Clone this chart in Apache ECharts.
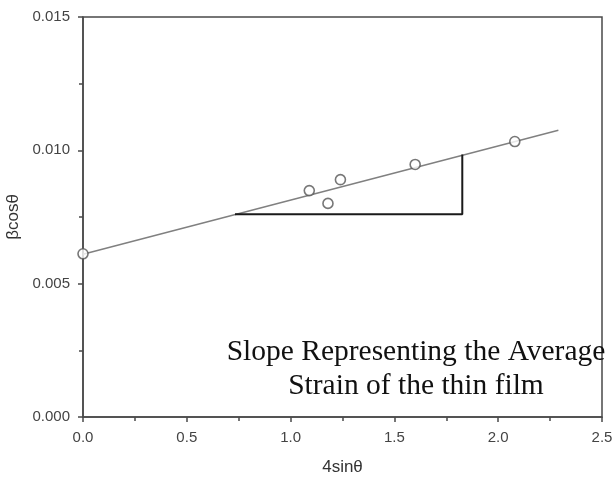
<!DOCTYPE html>
<html>
<head>
<meta charset="utf-8">
<script src="https://cdn.jsdelivr.net/npm/echarts@6/dist/echarts.min.js"></script>
<style>
html, body { margin: 0; padding: 0; background: #fff; }
#chart { width: 615px; height: 477px; }
</style>
</head>
<body>
<div id="chart"></div>
<script>
// measured points (4sinθ, βcosθ)
var pointsX = [0.0, 1.09, 1.18, 1.24, 1.60, 2.08];
var pointsY = [0.00612, 0.00849, 0.00801, 0.00890, 0.00947, 0.01033];
// linear fit, drawn between its two end points
var fitX = [0.0, 2.29];
var fitY = [0.0061, 0.01075];
// slope triangle corners
var triX = [0.732, 1.827, 1.827];
var triY = [0.00760, 0.00760, 0.00984];

var xTicks = { min: 0, max: 2.5, interval: 0.5 };
var yTicks = { min: 0, max: 0.015, interval: 0.005 };

function zip(a, b) {
    var out = [];
    for (var i = 0; i < a.length; i++) out.push([a[i], b[i]]);
    return out;
}

var axisColor = '#4a4a4a';

var option = {
    animation: false,
    backgroundColor: '#fff',
    grid: {
        left: 83,
        right: 13,
        top: 17,
        bottom: 60,
        outerBoundsMode: 'none',
        containLabel: false,
        show: true,
        borderColor: axisColor,
        borderWidth: 1.5
    },
    xAxis: {
        type: 'value',
        min: xTicks.min,
        max: xTicks.max,
        interval: xTicks.interval,
        name: '4sinθ',
        nameLocation: 'middle',
        nameGap: 42,
        nameTextStyle: { color: '#333', fontSize: 17, fontFamily: 'Liberation Sans' },
        axisLine: { show: true, lineStyle: { color: axisColor, width: 1.5 } },
        axisTick: { show: true, inside: false, length: 5, lineStyle: { color: axisColor, width: 1.5 } },
        minorTick: { show: true, splitNumber: 2, length: 4, lineStyle: { color: axisColor, width: 1.5 } },
        splitLine: { show: false },
        axisLabel: {
            color: '#444', fontSize: 15, fontFamily: 'Liberation Sans', margin: 13,
            formatter: function (v) { return v.toFixed(1); }
        }
    },
    yAxis: {
        type: 'value',
        min: yTicks.min,
        max: yTicks.max,
        interval: yTicks.interval,
        name: 'βcosθ',
        nameLocation: 'middle',
        nameGap: 57,
        nameTextStyle: { color: '#333', fontSize: 17, fontFamily: 'Liberation Sans' },
        axisLine: { show: true, lineStyle: { color: axisColor, width: 1.5 } },
        axisTick: { show: true, inside: false, length: 5, lineStyle: { color: axisColor, width: 1.5 } },
        minorTick: { show: true, splitNumber: 2, length: 4, lineStyle: { color: axisColor, width: 1.5 } },
        splitLine: { show: false },
        axisLabel: {
            color: '#444', fontSize: 15, fontFamily: 'Liberation Sans', margin: 13,
            formatter: function (v) { return v.toFixed(3); }
        }
    },
    graphic: [
        {
            type: 'text',
            x: 416,
            y: 335,
            style: {
                text: 'Slope Representing the Average\nStrain of the thin film',
                font: '29.5px "Liberation Serif"',
                fill: '#111',
                align: 'center',
                verticalAlign: 'top',
                lineHeight: 34
            },
            z: 100
        }
    ],
    series: [
        {
            type: 'line',
            data: zip(fitX, fitY),
            symbol: 'none',
            lineStyle: { color: '#808080', width: 1.5 },
            z: 2
        },
        {
            type: 'line',
            data: zip(triX, triY),
            symbol: 'none',
            lineStyle: { color: '#1a1a1a', width: 2 },
            z: 3
        },
        {
            type: 'scatter',
            data: zip(pointsX, pointsY),
            symbol: 'circle',
            symbolSize: 10,
            itemStyle: { color: '#fff', borderColor: '#555', borderWidth: 1.6 },
            z: 4
        }
    ]
};

var dom = document.getElementById('chart');
var myChart = echarts.init(dom, null, { renderer: 'canvas' });
myChart.setOption(option, true);
</script>
</body>
</html>
